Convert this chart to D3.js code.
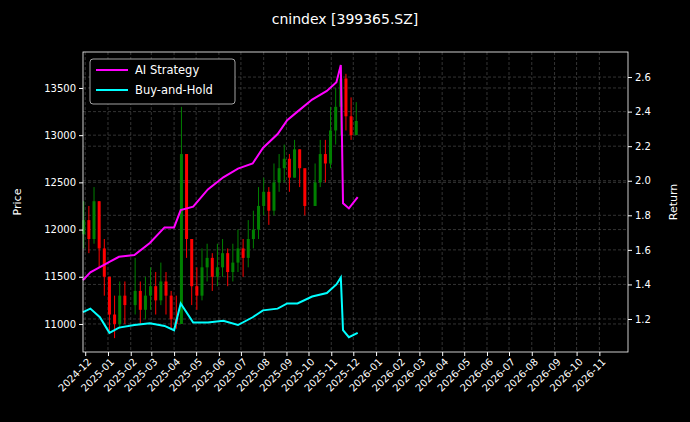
<!DOCTYPE html>
<html><head><meta charset="utf-8">
<script src="https://cdn.jsdelivr.net/npm/d3@7"></script>
<style>body{margin:0;background:#000}svg{display:block;font-family:"DejaVu Sans",sans-serif}</style>
</head><body><svg id="c" width="690" height="422"></svg>
<script>
// weekly candles: week date, close, high, low
const weeks = ["2024-11-29","2024-12-06","2024-12-13","2024-12-20","2024-12-27","2025-01-03","2025-01-10","2025-01-17","2025-01-24","2025-02-07","2025-02-14","2025-02-21","2025-02-28","2025-03-07","2025-03-14","2025-03-21","2025-03-28","2025-04-04","2025-04-11","2025-04-18","2025-04-25","2025-05-02","2025-05-09","2025-05-16","2025-05-23","2025-05-30","2025-06-06","2025-06-13","2025-06-20","2025-06-27","2025-07-04","2025-07-11","2025-07-18","2025-07-25","2025-08-01","2025-08-08","2025-08-15","2025-08-22","2025-08-29","2025-09-05","2025-09-12","2025-09-19","2025-09-26","2025-10-10","2025-10-17","2025-10-24","2025-10-31","2025-11-07","2025-11-14","2025-11-21","2025-11-28","2025-12-05"];
const closes = [12100,11900,12300,11800,11500,11100,11000,11300,11200,11350,11150,11300,11400,11250,11450,11300,11050,11000,12800,11900,11400,11300,11600,11700,11500,11600,11750,11550,11650,11800,11700,11900,12000,12250,12400,12200,12500,12650,12750,12550,12850,12650,12250,12500,12800,12700,13050,13300,13600,13200,13000,13150];
const highs  = [12300,12250,12450,12300,11900,11500,11300,11450,11450,11700,11450,11500,11600,11550,11650,11550,11350,11300,13300,12700,11900,11600,11800,11850,11750,11850,11900,11800,11850,12000,11900,12100,12200,12450,12550,12450,12700,12800,12900,12800,12950,12850,12500,12700,12950,12950,13300,13500,13720,13650,13400,13350];
const lows   = [11800,11750,11850,11600,11300,10900,10850,10950,11000,11100,11000,11050,11150,11100,11200,11100,10950,10950,11050,11700,11200,11150,11250,11450,11350,11400,11500,11400,11450,11550,11500,11600,11800,11900,12150,12050,12150,12400,12500,12400,12550,12450,12150,12250,12450,12500,12650,12900,13000,13050,12950,13050];
// strategy returns
const retDates = ["2024-11-28","2024-12-08","2024-12-21","2025-01-03","2025-01-16","2025-02-06","2025-02-27","2025-03-19","2025-04-01","2025-04-10","2025-04-27","2025-05-17","2025-06-07","2025-06-27","2025-07-17","2025-07-31","2025-08-20","2025-09-02","2025-09-16","2025-10-06","2025-10-26","2025-11-08","2025-11-14","2025-11-17","2025-11-25","2025-12-07"];
const aiStrategy = [1.425,1.47,1.50,1.53,1.56,1.57,1.64,1.73,1.73,1.83,1.85,1.95,2.02,2.07,2.10,2.19,2.27,2.35,2.40,2.47,2.52,2.57,2.67,1.87,1.84,1.905];
const buyHold = [1.24,1.26,1.21,1.12,1.15,1.165,1.175,1.16,1.135,1.29,1.18,1.18,1.19,1.165,1.21,1.25,1.26,1.29,1.29,1.33,1.35,1.40,1.44,1.135,1.095,1.12];

const p = d3.timeParse("%Y-%m-%d");
const svg = d3.select("#c");
const L = 83, R = 628, T = 52, B = 352;
svg.append("rect").attr("width",690).attr("height",422).attr("fill","#000");

const x = d3.scaleTime().domain([p("2024-11-28"), p("2026-12-10")]).range([L, R]);
const y = d3.scaleLinear().domain([10703, 13881]).range([B, T]);
const y2 = d3.scaleLinear().domain([1.009, 2.745]).range([B, T]);
const months = d3.timeMonth.range(p("2024-12-01"), p("2026-11-02"));

const grid = svg.append("g").attr("stroke","#555").attr("stroke-width",0.6).attr("stroke-dasharray","3,2");
months.forEach(m => grid.append("line").attr("x1",x(m)).attr("x2",x(m)).attr("y1",T).attr("y2",B));
y.ticks(6).forEach(v => grid.append("line").attr("x1",L).attr("x2",R).attr("y1",y(v)).attr("y2",y(v)));
y2.ticks(8).forEach(v => grid.append("line").attr("x1",L).attr("x2",R).attr("y1",y2(v)).attr("y2",y2(v)));

// candles
const cg = svg.append("g");
closes.forEach((c, i) => {
  const o = i ? closes[i-1] : 11950;
  const col = c >= o ? "#008000" : "#ff0000";
  const cx = x(p(weeks[i]));
  cg.append("line").attr("x1",cx).attr("x2",cx).attr("y1",y(highs[i])).attr("y2",y(lows[i])).attr("stroke",col).attr("stroke-width",1);
  cg.append("rect").attr("x",cx-1.5).attr("width",3).attr("y",y(Math.max(o,c))).attr("height",Math.max(1,Math.abs(y(o)-y(c)))).attr("fill",col);
});

const line = d3.line().x((d,i) => x(p(retDates[i]))).y(d => y2(d));
svg.append("path").attr("d",line(aiStrategy)).attr("fill","none").attr("stroke","#ff00ff").attr("stroke-width",2);
svg.append("path").attr("d",line(buyHold)).attr("fill","none").attr("stroke","#00ffff").attr("stroke-width",2);

svg.append("rect").attr("x",L).attr("y",T).attr("width",R-L).attr("height",B-T).attr("fill","none").attr("stroke","#fff").attr("stroke-width",0.8);

const style = g => { g.selectAll("path").remove(); g.selectAll("line").attr("stroke","#fff"); g.selectAll("text").attr("fill","#fff").attr("font-size",10).attr("font-family","DejaVu Sans"); };
svg.append("g").attr("transform",`translate(0,${B})`)
  .call(d3.axisBottom(x).tickValues(months).tickFormat(d3.timeFormat("%Y-%m")).tickSize(4))
  .call(style).selectAll("text").attr("text-anchor","end").attr("dx","-0.3em").attr("dy","0.5em").attr("transform","rotate(-45)");
svg.append("g").attr("transform",`translate(${L},0)`).call(d3.axisLeft(y).ticks(6).tickFormat(d3.format("d")).tickSize(4)).call(style);
svg.append("g").attr("transform",`translate(${R},0)`).call(d3.axisRight(y2).ticks(8).tickFormat(d3.format(".1f")).tickSize(4)).call(style);

svg.append("text").attr("x",345).attr("y",24).attr("text-anchor","middle").attr("fill","#fff").attr("font-size",14).text("cnindex [399365.SZ]");
svg.append("text").attr("transform",`translate(21,${(T+B)/2}) rotate(-90)`).attr("text-anchor","middle").attr("fill","#fff").attr("font-size",11).text("Price");
svg.append("text").attr("transform",`translate(677,${(T+B)/2}) rotate(-90)`).attr("text-anchor","middle").attr("fill","#fff").attr("font-size",11).text("Return");

const lg = svg.append("g").attr("transform","translate(90,59)");
lg.append("rect").attr("width",145).attr("height",45).attr("rx",3).attr("fill","#000").attr("stroke","#ccc").attr("stroke-width",0.8);
[["AI Strategy","#ff00ff"],["Buy-and-Hold","#00ffff"]].forEach(([t,c],i) => {
  lg.append("line").attr("x1",6).attr("x2",38).attr("y1",11+i*20).attr("y2",11+i*20).attr("stroke",c).attr("stroke-width",2);
  lg.append("text").attr("x",45).attr("y",15+i*20).attr("fill","#fff").attr("font-size",11.5).text(t);
});
</script></body></html>
